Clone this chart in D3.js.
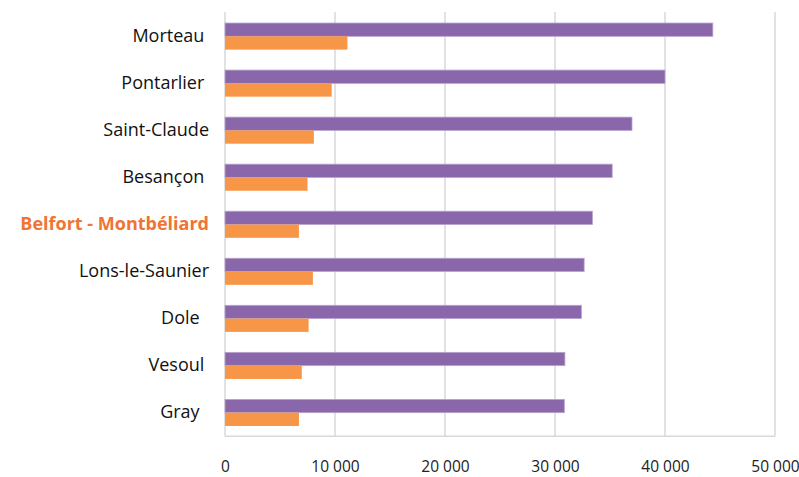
<!DOCTYPE html>
<html><head><meta charset="utf-8">
<script src="https://cdn.jsdelivr.net/npm/d3@7"></script>
<style>body{margin:0;background:#fff;} text{font-family:"Open Sans",Lato,sans-serif;white-space:pre;}</style>
</head><body>
<svg id="c" width="799" height="477"></svg>
<script>
const categories = ["Morteau ","Pontarlier ","Saint-Claude","Besançon ","Belfort - Montbéliard","Lons-le-Saunier","Dole  ","Vesoul ","Gray  "];
const seriesA = [44350,40000,37000,35200,33400,32650,32400,30900,30850];
const seriesB = [11130,9700,8080,7500,6720,7990,7600,6980,6720];
const xTicks = [0,10000,20000,30000,40000,50000];
const highlight = "Belfort - Montbéliard";

const svg = d3.select("#c");
const m = {left:225, right:775, top:12.8, bottom:436.2};
const x = d3.scaleLinear().domain([0,50000]).range([m.left,m.right]);
const y = d3.scaleBand().domain(categories).range([m.top,m.bottom]).paddingInner(0.435).paddingOuter(0.2175);
const inner = d3.scaleBand().domain(["a","b"]).range([0,y.bandwidth()]);

svg.append("g").selectAll("line").data(xTicks).join("line")
  .attr("x1",d=>x(d)).attr("x2",d=>x(d)).attr("y1",12).attr("y2",m.bottom)
  .attr("stroke","#d9d9d9").attr("stroke-width",1.5);
svg.append("line").attr("x1",m.left).attr("x2",m.right).attr("y1",m.bottom).attr("y2",m.bottom)
  .attr("stroke","#d9d9d9").attr("stroke-width",1.5);

const g = svg.append("g");
g.selectAll("rect.a").data(categories).join("rect").attr("class","a")
  .attr("x",x(0)).attr("y",d=>y(d)+inner("a")).attr("height",inner.bandwidth())
  .attr("width",(d,i)=>x(seriesA[i])-x(0)).attr("fill","#8a67ab")
  .attr("stroke","#b9a3cf").attr("stroke-width",0.8);
g.selectAll("rect.b").data(categories).join("rect").attr("class","b")
  .attr("x",x(0)).attr("y",d=>y(d)+inner("b")).attr("height",inner.bandwidth())
  .attr("width",(d,i)=>x(seriesB[i])-x(0)).attr("fill","#f79646");

const xa = d3.axisBottom(x).tickValues(xTicks).tickSize(0)
  .tickFormat(d=>d3.format(",")(d).replace(/,/g," "));
const xg = svg.append("g").attr("transform",`translate(0,${m.bottom})`).call(xa);
xg.select(".domain").remove();
xg.selectAll("text").attr("dy",0).attr("y",36).attr("font-size",15.5).attr("fill","#222")
  .style("font-family","'Open Sans', Lato, sans-serif");

const ya = d3.axisLeft(y).tickSize(0).tickPadding(16);
const yg = svg.append("g").attr("transform",`translate(${m.left},0)`).call(ya);
yg.select(".domain").remove();
yg.selectAll("text").attr("font-size",18).attr("fill","#111")
  .style("font-family","'Open Sans', Lato, sans-serif")
  .filter(d=>d===highlight).attr("fill","#f07433").attr("font-weight","bold");
</script>
</body></html>
